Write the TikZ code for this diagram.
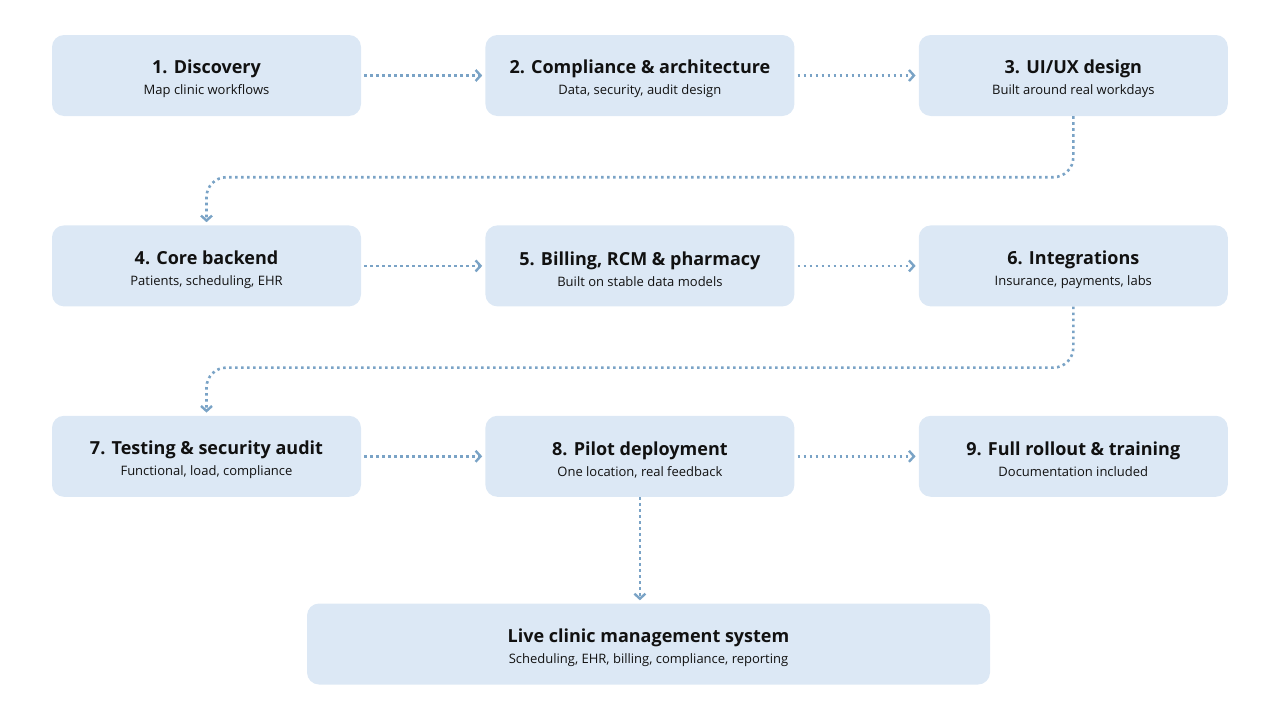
\documentclass[tikz,border=0pt]{standalone}
\usepackage{fontspec}
\setmainfont{Open Sans}
\usepackage{tikz}
\usetikzlibrary{arrows.meta,positioning}

\definecolor{stepfill}{HTML}{DCE8F5}
\definecolor{flowblue}{HTML}{7AA3C6}
\definecolor{inkblack}{HTML}{111111}
\newcommand{\phasetext}[2]{\rule{0pt}{20.5pt}{\fontsize{18}{21}\selectfont\bfseries #1}\\{\fontsize{13}{21}\selectfont #2}}

\begin{document}
\begin{tikzpicture}[x=1pt,y=-1pt,>={Straight Barb[length=5pt,width=11pt,line width=2.4pt]},
  phase/.style={rectangle,rounded corners=12pt,fill=stepfill,minimum width=309pt,
    minimum height=81pt,align=center,text=inkblack,inner sep=0pt,
    font=\fontsize{13}{21}\selectfont},
  flow/.style={->,draw=flowblue,line width=2.6pt,dash pattern=on 2.6pt off 3.4pt,
    shorten <=3pt,shorten >=3pt},
  node distance=109pt and 124pt]
  \useasboundingbox (0,0) rectangle (1280,720);
  \node[phase] (disc) at (206.5,75.5) {\phasetext{1. Discovery}{Map clinic workflows}};
  \node[phase] (arch) [right=of disc] {\phasetext{2. Compliance \& architecture}{Data, security, audit design}};
  \node[phase] (uiux) [right=of arch] {\phasetext{3. UI/UX design}{Built around real workdays}};
  \node[phase] (core) [below=of disc] {\phasetext{4. Core backend}{Patients, scheduling, EHR}};
  \node[phase] (bill) [right=of core] {\phasetext{5. Billing, RCM \& pharmacy}{Built on stable data models}};
  \node[phase] (intg) [right=of bill] {\phasetext{6. Integrations}{Insurance, payments, labs}};
  \node[phase] (test) [below=of core] {\phasetext{7. Testing \& security audit}{Functional, load, compliance}};
  \node[phase] (pilot) [right=of test] {\phasetext{8. Pilot deployment}{One location, real feedback}};
  \node[phase] (roll) [right=of pilot] {\phasetext{9. Full rollout \& training}{Documentation included}};
  \node[phase,minimum width=683pt] (live) at (648.5,644) {\phasetext{Live clinic management system}{Scheduling, EHR, billing, compliance, reporting}};
  \path[flow]
    (disc) edge (arch)
    (arch) edge (uiux)
    (core) edge (bill)
    (bill) edge (intg)
    (test) edge (pilot)
    (pilot) edge (roll)
  ;
  \draw[flow,shorten <=0pt,rounded corners=20pt] (uiux.south) -- ++(0,61) -| (core.north);
  \draw[flow,shorten <=0pt,rounded corners=20pt] (intg.south) -- ++(0,61) -| (test.north);
  \draw[flow,shorten <=0pt] (pilot.south) -- (pilot.south |- live.north);
\end{tikzpicture}
\end{document}
